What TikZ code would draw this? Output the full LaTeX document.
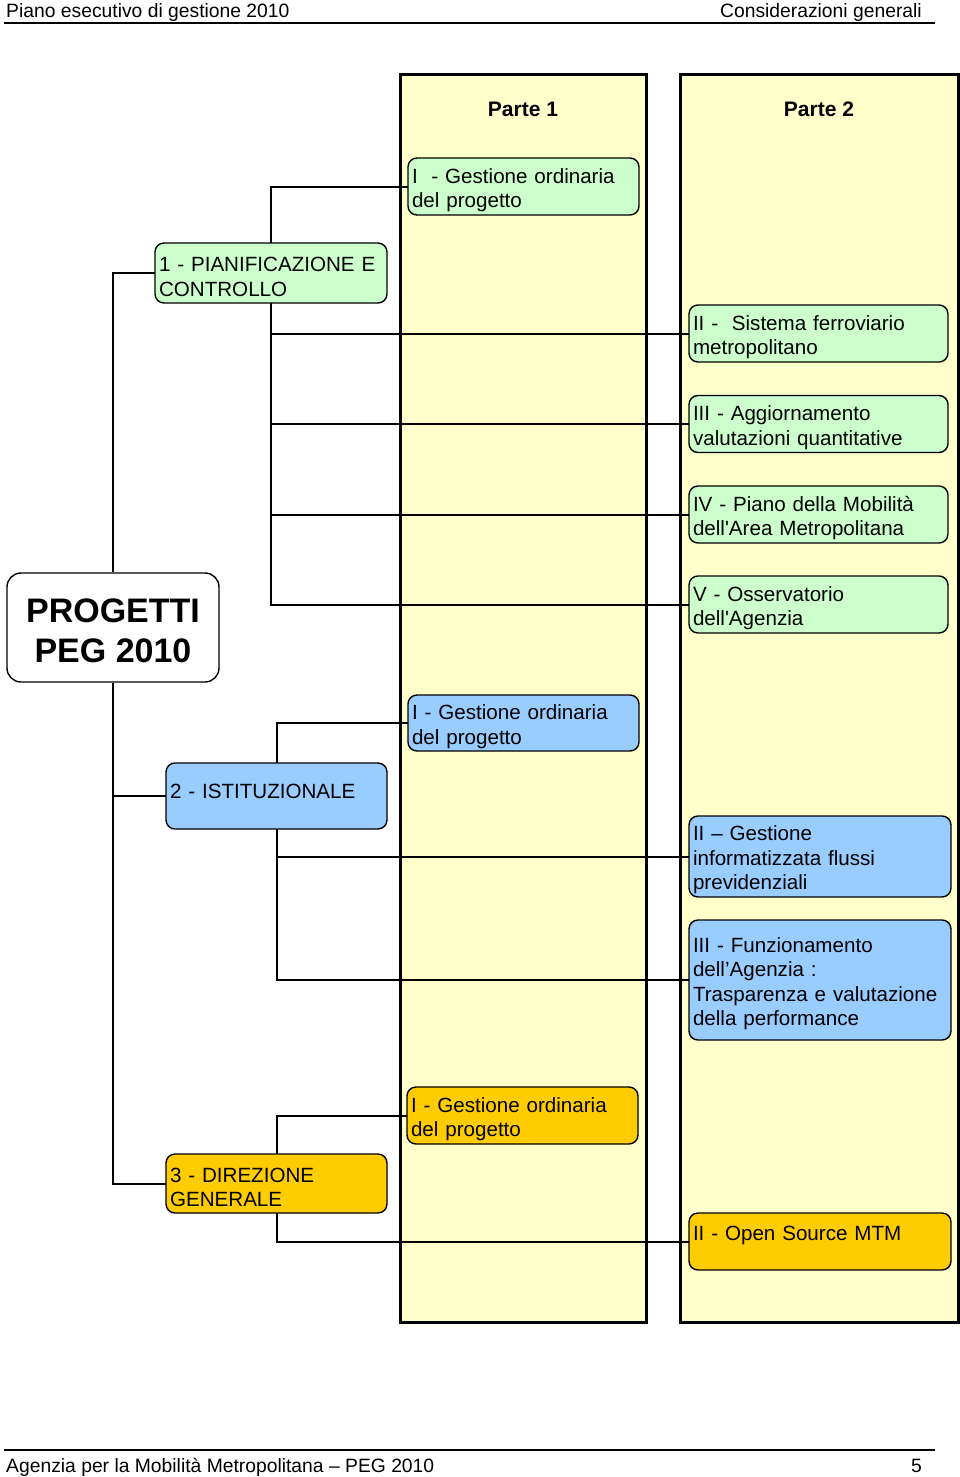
\documentclass[tikz,border=0pt]{standalone}
\usepackage{fontspec}
\setmainfont{Liberation Sans}
\definecolor{boxgreen}{HTML}{CCFFCC}
\definecolor{boxblue}{HTML}{99CCFF}
\definecolor{boxgold}{HTML}{FFCC00}
\definecolor{panelyellow}{HTML}{FFFFCC}
\tikzset{
  panel/.style={draw=black, line width=3pt, fill=panelyellow, inner sep=0pt, outer sep=0pt},
  ptitle/.style={font=\fontsize{21pt}{24pt}\selectfont\bfseries, inner sep=0pt},
  box/.style={draw=black, line width=1.4pt, rounded corners=9pt, inner xsep=4pt, inner ysep=0pt,
    outer sep=0pt, align=left, text height=22pt, font=\fontsize{20.6pt}{24.5pt}\selectfont},
  gbox/.style={box, fill=boxgreen},
  bbox/.style={box, fill=boxblue},
  ybox/.style={box, fill=boxgold},
  conn/.style={draw=black, line width=2pt},
  hdr/.style={font=\fontsize{19.3pt}{22pt}\selectfont, inner sep=0pt},
}
\begin{document}
\begin{tikzpicture}[x=1pt, y=-1pt]
\useasboundingbox (0,0) rectangle (960,1477);
% header / footer
\node[hdr, anchor=base west] (htl) at (6,18) {Piano esecutivo di gestione 2010};
\node[hdr, anchor=base east] (htr) at (922,18) {Considerazioni generali};
\coordinate (hl1) at (4,23); \coordinate (hl2) at (935,23);
\draw[line width=1.2pt] (hl1) -- (hl2);
\coordinate (fl1) at (4,1450); \coordinate (fl2) at (935,1450);
\draw[line width=1.2pt] (fl1) -- (fl2);
\node[hdr, anchor=base west] (ftl) at (6,1472) {Agenzia per la Mobilità Metropolitana – PEG 2010};
\node[hdr, anchor=base east] (ftr) at (922,1472) {5};

% panels
\node[panel, minimum width=246pt, minimum height=1247pt] (part1) at (523,698.5) {};
\node[panel, minimum width=278pt, minimum height=1247pt] (part2) at (819,698.5) {};
\node[ptitle] (t1) at (523,109) {Parte 1};
\node[ptitle] (t2) at (819,109) {Parte 2};

% root
\node[draw=black, fill=white, line width=1.4pt, rounded corners=14pt,
  minimum width=212pt, minimum height=109pt, inner sep=0pt] (prog) at (113,627.5) {};
\node[align=center, inner sep=0pt, font=\fontsize{34pt}{40pt}\selectfont\bfseries] (progtext) at (113,631) {PROGETTI\\PEG 2010};

% group 1
\node[gbox, minimum width=232pt, text width=224pt, minimum height=60pt] (pian) at (271,273) {1 - PIANIFICAZIONE E\\CONTROLLO};
\node[gbox, minimum width=231pt, text width=223pt, minimum height=57pt] (g1) at (523.5,186.5) {I\ \ - Gestione ordinaria\\del progetto};
\node[gbox, minimum width=259pt, text width=251pt, minimum height=57pt] (g2) at (818.5,333.5) {II -\ \ Sistema ferroviario\\metropolitano};
\node[gbox, minimum width=259pt, text width=251pt, minimum height=57pt] (g3) at (818.5,424) {III - Aggiornamento\\valutazioni quantitative};
\node[gbox, minimum width=259pt, text width=251pt, minimum height=57pt] (g4) at (818.5,514.5) {IV - Piano della Mobilità\\dell\textquotesingle Area Metropolitana};
\node[gbox, minimum width=259pt, text width=251pt, minimum height=57pt] (g5) at (818.5,604.5) {V - Osservatorio\\dell\textquotesingle Agenzia};

% group 2
\node[bbox, minimum width=221pt, text width=213pt, minimum height=66pt] (ist) at (276.5,796) {2 - ISTITUZIONALE\\[-7.5pt]\mbox{}};
\node[bbox, minimum width=231pt, text width=223pt, minimum height=56pt] (b1) at (523.5,723) {I - Gestione ordinaria\\del progetto};
\node[bbox, minimum width=262pt, text width=254pt, minimum height=81pt] (b2) at (820,856.5) {II – Gestione\\informatizzata flussi\\previdenziali};
\node[bbox, minimum width=262pt, text width=254pt, minimum height=120pt] (b3) at (820,980) {III - Funzionamento\\dell’Agenzia :\\Trasparenza e valutazione\\della performance};

% group 3
\node[ybox, minimum width=221pt, text width=213pt, minimum height=59pt] (dir) at (276.5,1183.5) {3 - DIREZIONE\\GENERALE};
\node[ybox, minimum width=231pt, text width=223pt, minimum height=57pt] (y1) at (522.5,1115.5) {I - Gestione ordinaria\\del progetto};
\node[ybox, minimum width=262pt, text width=254pt, minimum height=57pt] (y2) at (820,1241.5) {II - Open Source MTM\\\mbox{}};

% connectors: trunk
\draw[conn] (pian.west) -| (prog.north);
\draw[conn] (prog.south) |- (ist.west);
\draw[conn] (prog.south) |- (dir.west);
% group 1
\draw[conn] (pian.north) |- (g1.west);
\draw[conn] (pian.south) |- (g5.west);
\draw[conn] (g2.west) -- (g2.west -| pian.south);
\draw[conn] (g3.west) -- (g3.west -| pian.south);
\draw[conn] (g4.west) -- (g4.west -| pian.south);
% group 2
\draw[conn] (ist.north) |- (b1.west);
\draw[conn] (ist.south) |- (b3.west);
\draw[conn] (b2.west) -- (b2.west -| ist.south);
% group 3
\draw[conn] (dir.north) |- (y1.west);
\draw[conn] (dir.south) |- (y2.west);
\end{tikzpicture}
\end{document}
